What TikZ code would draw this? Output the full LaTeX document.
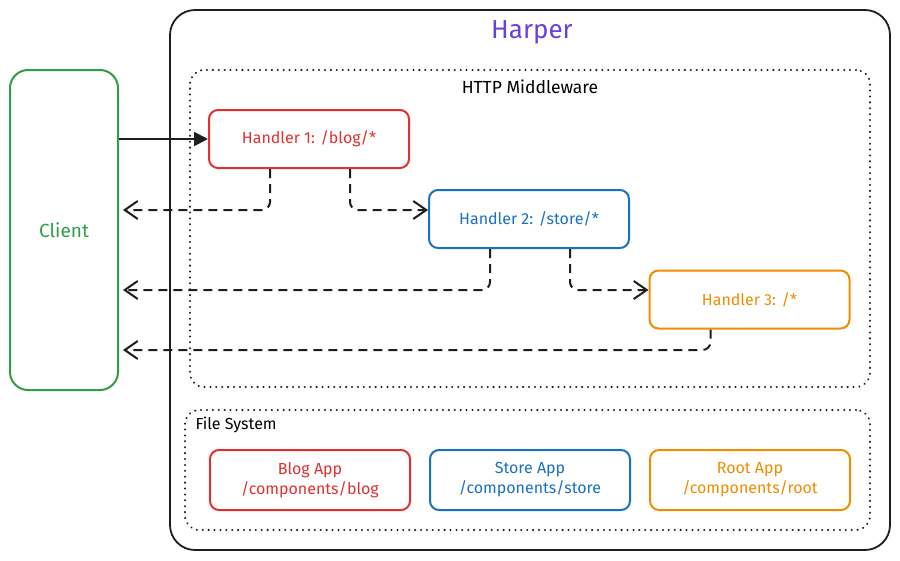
\documentclass[tikz,border=0pt]{standalone}
\usepackage{fontspec}
\setmainfont{Fira Sans}
\usetikzlibrary{arrows.meta}
\definecolor{hred}{HTML}{E03131}
\definecolor{hblue}{HTML}{1971C2}
\definecolor{horange}{HTML}{F08C00}
\definecolor{hgreen}{HTML}{2F9E44}
\definecolor{hpurple}{HTML}{6741D9}
\definecolor{hink}{HTML}{1E1E1E}
\begin{document}
\begin{tikzpicture}[x=1pt,y=-1pt]
\tikzstyle{every node} = [align=center, font=\fontsize{16}{20}\selectfont]
\tikzstyle{box} = [draw, line width=2pt, rounded corners=9pt, fill=white, inner sep=0pt]
\tikzstyle{handler} = [box, minimum width=200pt, minimum height=58pt]
\tikzstyle{app} = [box, minimum width=200pt, minimum height=60pt]
\tikzstyle{group} = [draw=hink, line width=2.2pt, dash pattern=on 0.1pt off 5.8pt, line cap=round, rounded corners=14pt, inner sep=0pt]
\tikzstyle{ret} = [draw=hink, line width=2pt, dash pattern=on 9pt off 6pt, rounded corners=8pt, -{Straight Barb[length=13pt,width=18pt]}]
      \useasboundingbox (0,0) rectangle (900,560);

      % outer frame
      \node[draw=hink, line width=1.8pt, rounded corners=25pt, minimum width=720pt, minimum height=540pt, inner sep=0pt] (harper) at (530,280) {};
      \node[text=hpurple, font=\fontsize{26}{30}\selectfont] (harpertitle) at (532,32) {Harper};

      \node[group, minimum width=680pt, minimum height=317pt] (mw) at (530,228.5) {};
      \node[font=\fontsize{17.5}{20}\selectfont] (mwtitle) at (530,87) {HTTP Middleware};

      \node[group, minimum width=685pt, minimum height=120pt] (fs) at (527.5,470) {};
      \node[anchor=west] (fstitle) at (192,425) {File System};

      \node[box, draw=hgreen, text=hgreen, rounded corners=18pt, minimum width=108pt, minimum height=320pt, font=\fontsize{19}{22}\selectfont] (client) at (64,230) {Client};

      % handlers
      \node[handler, draw=hred, text=hred] (h1) at (309,139) {Handler 1: /blog/*};
      \node[handler, draw=hblue, text=hblue] (h2) at (529,219) {Handler 2: /store/*};
      \node[handler, draw=horange, text=horange] (h3) at (749.5,299.5) {Handler 3: /*};

      % apps
      \node[app, draw=hred, text=hred] (blog) at (310,480) {Blog App\\/components/blog};
      \node[app, draw=hblue, text=hblue] (store) at (530,480) {Store App\\/components/store};
      \node[app, draw=horange, text=horange] (root) at (750,480) {Root App\\/components/root};

      \coordinate (lane1) at (0,210);
      \coordinate (lane2) at (0,290);
      \coordinate (lane3) at (0,350);

      \draw[draw=hink, line width=2pt, -{Triangle[length=14pt,width=14pt]}] (client.east |- h1) -- (h1.west);

      \draw[ret] ([xshift=-39pt]h1.south) |- ([xshift=4pt]client.east |- lane1);
      \draw[ret] ([xshift=41pt]h1.south) |- (h2.west |- lane1);
      \draw[ret] ([xshift=-39pt]h2.south) |- ([xshift=4pt]client.east |- lane2);
      \draw[ret] ([xshift=41pt]h2.south) |- (h3.west |- lane2);
      \draw[ret] ([xshift=-39pt]h3.south) |- ([xshift=4pt]client.east |- lane3);
    \end{tikzpicture}
\end{document}
